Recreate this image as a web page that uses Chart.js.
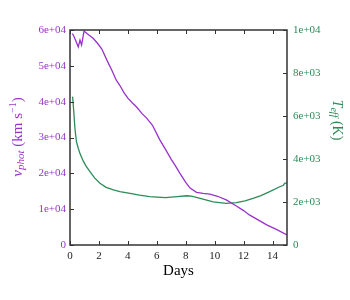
<!DOCTYPE html>
<html>
<head>
<meta charset="utf-8">
<script src="https://cdn.jsdelivr.net/npm/chart.js@4"></script>
<style>
  html, body { margin: 0; padding: 0; background: #fff; }
  canvas { display: block; }
</style>
</head>
<body>
<canvas id="chart" width="350" height="300"></canvas>
<script>
// photospheric velocity (km/s) vs days
const vDays = [0.15, 0.23, 0.4, 0.57, 0.69, 0.8, 0.97, 1.3, 1.6, 1.9, 2.2, 2.55, 2.9, 3.2, 3.45, 3.75, 4.0, 4.3, 4.6, 5.0, 5.3, 5.7, 6.2, 6.6, 7.0, 7.3, 7.6, 8.0, 8.3, 8.75, 9.2, 9.67, 10.2, 10.8, 11.5, 12.0, 12.4, 13.0, 13.6, 14.3, 15.0];
const vPhot = [59000, 58600, 57000, 55300, 57200, 55800, 59700, 58600, 57700, 56300, 54700, 51600, 48700, 46000, 44500, 42400, 41000, 39700, 38500, 36600, 35400, 33400, 29400, 26700, 23900, 22000, 20000, 17500, 15900, 14700, 14400, 14200, 13600, 12600, 10900, 9600, 8400, 7000, 5600, 4300, 2800];

// effective temperature (K) vs days
const tDays = [0.18, 0.25, 0.35, 0.45, 0.57, 0.69, 0.92, 1.1, 1.38, 1.7, 2.07, 2.5, 3.0, 3.45, 4.15, 4.8, 5.5, 6.6, 7.4, 8.06, 8.4, 9.0, 9.9, 10.8, 11.5, 12.1, 12.65, 13.2, 13.8, 14.5, 14.75, 14.85, 15.0];
const tEff = [6900, 6300, 5350, 4800, 4500, 4250, 3900, 3680, 3410, 3120, 2870, 2680, 2560, 2480, 2400, 2320, 2250, 2200, 2250, 2290, 2270, 2170, 2010, 1940, 1970, 2050, 2170, 2300, 2480, 2710, 2780, 2880, 2880];

const xTicks = [0, 2, 4, 6, 8, 10, 12, 14];
const leftTicks = [0, 10000, 20000, 30000, 40000, 50000, 60000];
const leftTickLabels = ['0', '1e+04', '2e+04', '3e+04', '4e+04', '5e+04', '6e+04'];
const rightTicks = [0, 2000, 4000, 6000, 8000, 10000];
const rightTickLabels = ['0', '2e+03', '4e+03', '6e+03', '8e+03', '1e+04'];

const PURPLE = '#9932cc';
const GREEN = '#2e8b57';
const SERIF = '"Liberation Serif", "DejaVu Serif", serif';

function setTicks(values) {
    return scale => { scale.ticks = values.map(v => ({ value: v })); };
}

// rich text: list of parts drawn one after the other, centred on 0,0
function drawRich(ctx, parts) {
    let total = 0;
    parts.forEach(p => {
        ctx.font = p.font;
        p.w = ctx.measureText(p.text).width;
        total += p.w;
    });
    let x = -total / 2;
    ctx.textBaseline = 'middle';
    ctx.textAlign = 'left';
    parts.forEach(p => {
        ctx.font = p.font;
        ctx.fillText(p.text, x, p.dy || 0);
        x += p.w;
    });
}

const framePlugin = {
    id: 'frame',
    afterDraw(chart) {
        const ctx = chart.ctx;
        const a = chart.chartArea;
        const sx = chart.scales.x, sy = chart.scales.y, sy2 = chart.scales.y2;
        ctx.save();
        ctx.strokeStyle = '#333';
        // inward ticks
        ctx.lineWidth = 1;
        ctx.beginPath();
        xTicks.forEach(v => {
            const px = Math.round(sx.getPixelForValue(v)) + 0.5;
            ctx.moveTo(px, a.bottom); ctx.lineTo(px, a.bottom - 4);
            ctx.moveTo(px, a.top); ctx.lineTo(px, a.top + 4);
        });
        leftTicks.forEach(v => {
            const py = Math.round(sy.getPixelForValue(v)) + 0.5;
            ctx.moveTo(a.left, py); ctx.lineTo(a.left + 4, py);
        });
        rightTicks.forEach(v => {
            const py = Math.round(sy2.getPixelForValue(v)) + 0.5;
            ctx.moveTo(a.right, py); ctx.lineTo(a.right - 4, py);
        });
        ctx.stroke();
        // frame
        ctx.lineWidth = 1.5;
        ctx.strokeRect(a.left, a.top, a.right - a.left, a.bottom - a.top);

        // axis titles
        ctx.fillStyle = '#000';
        ctx.save();
        ctx.translate((a.left + a.right) / 2, 271);
        drawRich(ctx, [{ text: 'Days', font: '15px ' + SERIF }]);
        ctx.restore();

        ctx.fillStyle = PURPLE;
        ctx.save();
        ctx.translate(18, 137);
        ctx.rotate(-Math.PI / 2);
        drawRich(ctx, [
            { text: 'v', font: 'italic 15px ' + SERIF },
            { text: 'phot', font: 'italic 11px ' + SERIF, dy: 3 },
            { text: ' (km s', font: '15px ' + SERIF },
            { text: '\u22121', font: '10px ' + SERIF, dy: -5 },
            { text: ')', font: '15px ' + SERIF }
        ]);
        ctx.restore();

        ctx.fillStyle = GREEN;
        ctx.save();
        ctx.translate(337, 120);
        ctx.rotate(Math.PI / 2);
        drawRich(ctx, [
            { text: 'T', font: 'italic 14px ' + SERIF },
            { text: 'eff', font: 'italic 10px ' + SERIF, dy: 3 },
            { text: ' (K)', font: '14px ' + SERIF }
        ]);
        ctx.restore();
        ctx.restore();
    }
};

new Chart(document.getElementById('chart'), {
    type: 'line',
    data: {
        datasets: [
            {
                label: 'v_phot',
                data: vDays.map((d, i) => ({ x: d, y: vPhot[i] })),
                borderColor: PURPLE,
                borderWidth: 1.3,
                pointRadius: 0,
                tension: 0,
                yAxisID: 'y'
            },
            {
                label: 'T_eff',
                data: tDays.map((d, i) => ({ x: d, y: tEff[i] })),
                borderColor: GREEN,
                borderWidth: 1.3,
                pointRadius: 0,
                tension: 0,
                yAxisID: 'y2'
            }
        ]
    },
    options: {
        responsive: false,
        devicePixelRatio: 1,
        animation: false,
        layout: { padding: { top: 30, left: 0, right: 0, bottom: 0 } },
        plugins: { legend: { display: false }, tooltip: { enabled: false } },
        scales: {
            x: {
                type: 'linear',
                min: 0,
                max: 15,
                afterBuildTicks: setTicks(xTicks),
                afterFit: s => { s.height = 55; },
                grid: { display: false, drawTicks: false },
                border: { display: false },
                ticks: { color: '#222', padding: 5, maxRotation: 0, font: { family: SERIF, size: 11 } }
            },
            y: {
                position: 'left',
                min: 0,
                max: 60000,
                afterBuildTicks: setTicks(leftTicks),
                afterFit: s => { s.width = 70; },
                grid: { display: false, drawTicks: false },
                border: { display: false },
                ticks: {
                    color: PURPLE, padding: 4, font: { family: SERIF, size: 11 },
                    callback: (v, i) => leftTickLabels[i]
                }
            },
            y2: {
                position: 'right',
                min: 0,
                max: 10000,
                afterBuildTicks: setTicks(rightTicks),
                afterFit: s => { s.width = 63; },
                grid: { display: false, drawTicks: false },
                border: { display: false },
                ticks: {
                    color: GREEN, padding: 6, font: { family: SERIF, size: 11 },
                    callback: (v, i) => rightTickLabels[i]
                }
            }
        }
    },
    plugins: [framePlugin]
});
</script>
</body>
</html>
